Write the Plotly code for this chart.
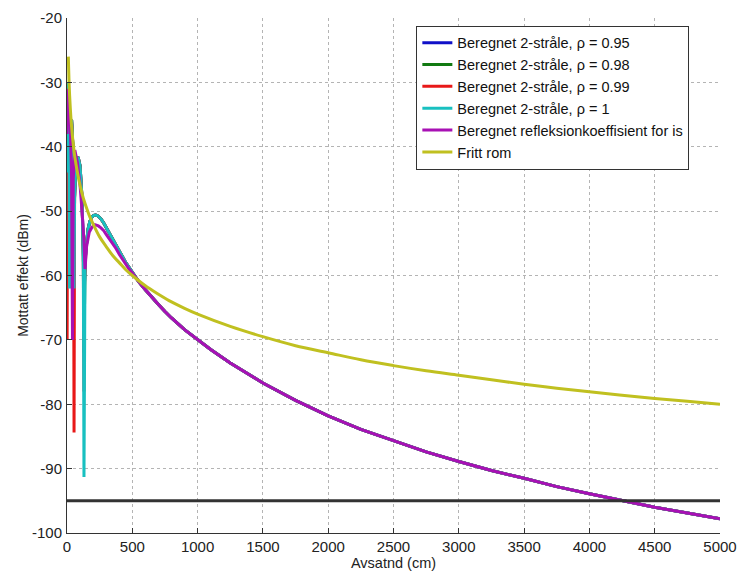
import plotly.graph_objects as go

# ---- data ----
# shared far-field part of the two-ray / ice-reflection curves
far_x = [500, 550, 600, 650, 700, 750, 800, 900, 1000, 1100, 1250, 1400, 1500, 1750, 2000, 2250,
         2500, 2750, 3000, 3250, 3500, 3750, 4000, 4250, 4500, 4750, 5000]
far_y = [-59.6, -61.0, -62.2, -63.4, -64.5, -65.6, -66.6, -68.4, -70.0, -71.5, -73.6, -75.5, -76.7,
         -79.4, -81.8, -83.9, -85.7, -87.4, -88.9, -90.3, -91.5, -92.8, -93.9, -95.0, -96.0, -96.9, -97.8]

# near-field x grid of the two-ray curves
near_x = [1, 2, 5, 10, 15, 20, 25, 35, 45, 50, 54, 58, 70, 85, 100, 115, 125, 130, 134,
          138, 145, 150, 161, 175, 191, 205, 220, 240, 260, 280, 300, 325, 350, 375, 400, 425, 450, 475]
# part common to all two-ray curves (x >= 138)
two_ray_tail = [-58, -56, -54.8, -52.8, -51.6, -50.9, -50.65, -50.6, -50.8, -51.2, -51.8, -52.5,
                -53.4, -54.3, -55.2, -56.2, -57.1, -58.0, -58.8]
# near-field values that differ with rho (x < 138)
rho095_head = [-41, -38, -33, -30, -38, -50, -38, -35.8, -40, -47, -57, -47, -42, -41.6, -43, -48, -56, -65, -60]
rho098_head = [-33, -32, -31, -30, -38, -52, -38, -35.8, -40, -48, -60, -48, -42, -41.6, -43, -48, -57, -72, -61]
rho099_head = [-70, -44, -34, -30, -38, -55, -38, -35.8, -40, -48, -84.4, -48, -42, -41.6, -43, -48, -57, -78, -61]
rho100_head = [-44, -40, -34, -30, -38, -62, -38, -35.8, -40, -48, -62, -48, -42, -41.6, -43, -48, -58, -91.3, -62]

# calculated reflection coefficient for ice (near field)
ice_x = [1, 8, 15, 25, 35, 42, 48, 60, 80, 100, 115, 128, 138, 150, 170, 191, 214, 240, 260, 280,
         300, 325, 350, 375, 400, 425, 450, 475]
ice_y = [-38, -31, -33, -36, -45, -70, -45, -40.5, -42.5, -46, -50, -54, -59, -55.5, -53.3, -52.5, -52.1,
         -52.3, -52.6, -53.0, -53.6, -54.3, -55.0, -55.8, -56.7, -57.5, -58.3, -59.0]

# free space
fs_x = [10, 15, 20, 30, 40, 50, 60, 80, 100, 125, 150, 175, 200, 250, 300, 350, 400, 450, 500, 600, 700,
        800, 900, 1000, 1250, 1500, 1750, 2000, 2250, 2500, 2750, 3000, 3250, 3500, 3750, 4000, 4250,
        4500, 4750, 5000]
fs_y = [-26, -29.5, -32, -35.5, -38, -40, -41.6, -44, -46, -48, -49.5, -50.9, -52, -54, -55.5, -56.9, -58,
        -59.1, -60, -61.6, -62.9, -64.1, -65.1, -66, -67.9, -69.5, -70.9, -72, -73.1, -74, -74.8, -75.5,
        -76.2, -76.9, -77.5, -78.05, -78.6, -79.1, -79.55, -80]

# threshold line
thr_x = [0, 5000]
thr_y = [-95, -95]

# axis ticks
x_ticks = [0, 500, 1000, 1500, 2000, 2500, 3000, 3500, 4000, 4500, 5000]
y_ticks = [-100, -90, -80, -70, -60, -50, -40, -30, -20]
y_tick_text = ["-100", "-90", "-80", "-70", "-60", "-50", "-40", "-30", "-20"]

names = ["Beregnet 2-stråle, ρ = 0.95", "Beregnet 2-stråle, ρ = 0.98", "Beregnet 2-stråle, ρ = 0.99",
         "Beregnet 2-stråle, ρ = 1", "Beregnet refleksionkoeffisient for is", "Fritt rom"]
colors = ["#1010c8", "#127a12", "#e81818", "#18c0c0", "#a810b4", "#c0c020"]

series = [
    (near_x + far_x, rho095_head + two_ray_tail + far_y, "linear"),
    (near_x + far_x, rho098_head + two_ray_tail + far_y, "linear"),
    (near_x + far_x, rho099_head + two_ray_tail + far_y, "linear"),
    (near_x + far_x, rho100_head + two_ray_tail + far_y, "linear"),
    (ice_x + far_x, ice_y + far_y, "linear"),
    (fs_x, fs_y, "spline"),
]

fig = go.Figure()
for (xs, ys, shape), nm, c in zip(series, names, colors):
    fig.add_trace(go.Scatter(x=xs, y=ys, mode="lines", name=nm,
                             line=dict(color=c, width=3, shape=shape)))
fig.add_trace(go.Scatter(x=thr_x, y=thr_y, mode="lines", showlegend=False,
                         line=dict(color="#333333", width=3)))

font = "Liberation Sans, Arial, sans-serif"
axis_common = dict(showline=True, linecolor="#333333", linewidth=1, mirror=False,
                   ticks="inside", ticklen=5, tickcolor="#333333", automargin=False,
                   showgrid=True, gridcolor="#b4b4b4", griddash="dot", gridwidth=1,
                   zeroline=False, tickfont=dict(family=font, size=15, color="#222"))
fig.update_layout(
    width=738, height=571,
    margin=dict(l=67, r=18, t=18, b=38),
    paper_bgcolor="white", plot_bgcolor="white",
    font=dict(family=font, size=15, color="#222"),
    xaxis=dict(range=[0, 5000], tickvals=x_ticks, ticktext=[str(v) for v in x_ticks],
               ticklabelstandoff=0,
               title=dict(text="Avsatnd (cm)", font=dict(family=font, size=14.5), standoff=0),
               **axis_common),
    yaxis=dict(range=[-100, -20], tickvals=y_ticks, ticktext=y_tick_text, ticklabelstandoff=1,
               title=dict(text="Mottatt effekt (dBm)", font=dict(family=font, size=14), standoff=0),
               **axis_common),
    legend=dict(x=0.535, y=0.985, xanchor="left", yanchor="top",
                bgcolor="white", bordercolor="#333333", borderwidth=1,
                font=dict(family=font, size=14.5, color="#111"), tracegroupgap=0),
)
fig.write_html("out.html")
